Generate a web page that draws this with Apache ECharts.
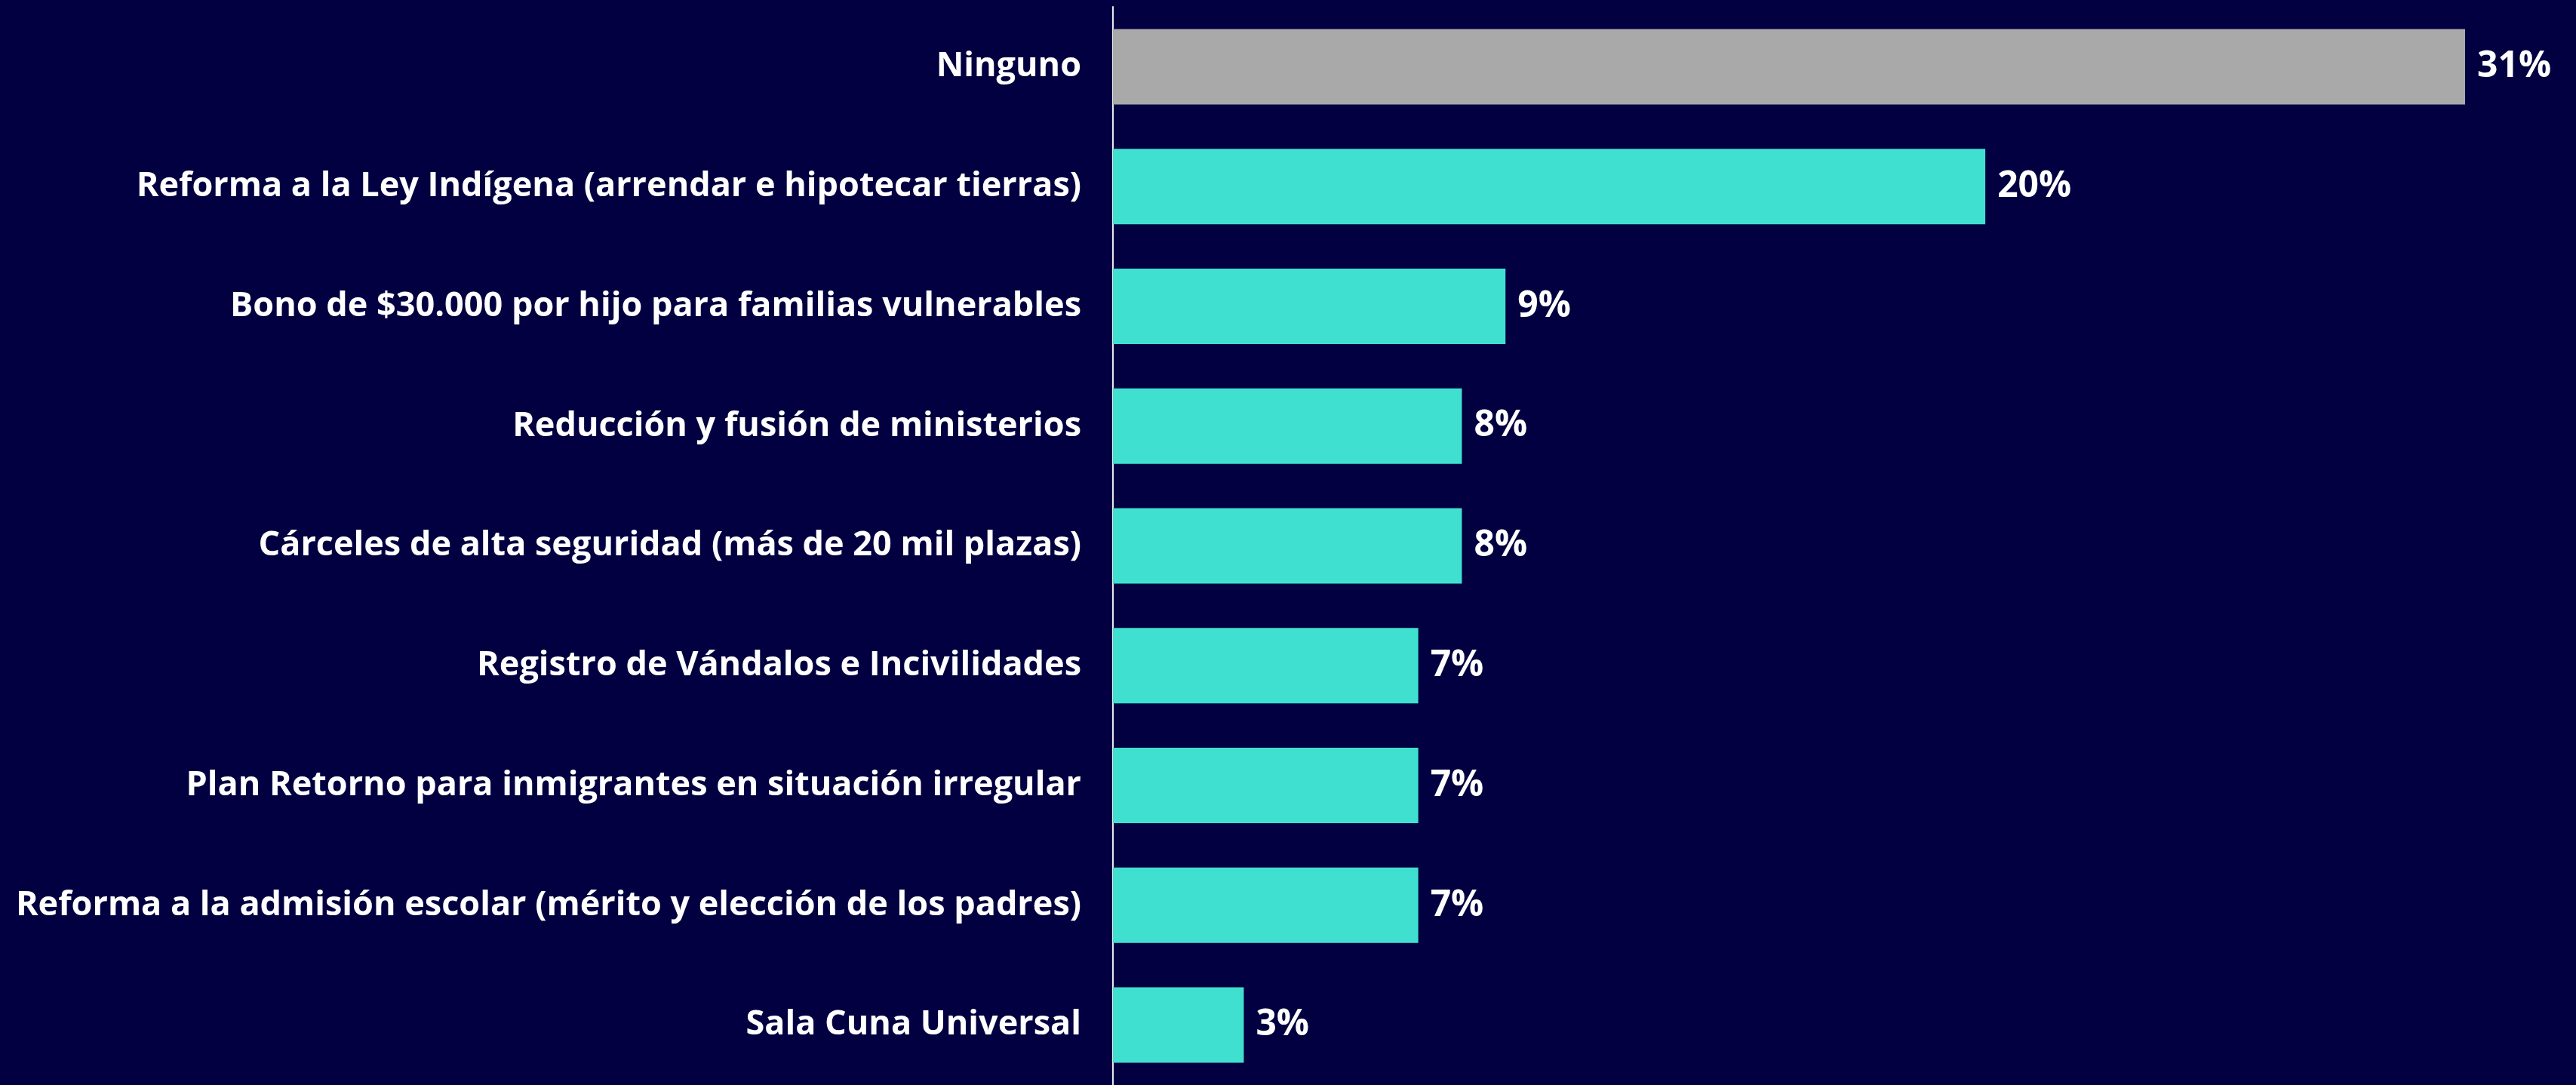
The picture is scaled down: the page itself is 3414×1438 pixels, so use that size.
<!DOCTYPE html>
<html><head><meta charset="utf-8">
<script src="https://cdn.jsdelivr.net/npm/echarts@6/dist/echarts.min.js"></script>
<style>html,body{margin:0;padding:0;background:#020040;}#c{width:3414px;height:1438px;}</style>
</head><body><div id="c"></div>
<script>
const categories = [
  "Ninguno",
  "Reforma a la Ley Indígena (arrendar e hipotecar tierras)",
  "Bono de $30.000 por hijo para familias vulnerables",
  "Reducción y fusión de ministerios",
  "Cárceles de alta seguridad (más de 20 mil plazas)",
  "Registro de Vándalos e Incivilidades",
  "Plan Retorno para inmigrantes en situación irregular",
  "Reforma a la admisión escolar (mérito y elección de los padres)",
  "Sala Cuna Universal"
];
const values = [31, 20, 9, 8, 8, 7, 7, 7, 3];
const highlight = ["Ninguno"];

const FONT = '"Open Sans", sans-serif';
const chart = echarts.init(document.getElementById('c'));
chart.setOption({
  backgroundColor: '#020040',
  animation: false,
  grid: {left: 1475, top: 9, width: 1792, height: 1435},
  xAxis: {type: 'value', min: 0, max: 31, show: false},
  yAxis: {
    type: 'category', data: categories, inverse: true,
    axisLine: {show: true, lineStyle: {color: '#e8e8f0', width: 2}},
    axisTick: {show: false},
    axisLabel: {color: '#ffffff', fontSize: 45, fontWeight: 'bold', fontFamily: FONT, margin: 42}
  },
  series: [{
    type: 'bar',
    barWidth: 100,
    data: values.map((v, i) => ({
      value: v,
      itemStyle: {color: highlight.includes(categories[i]) ? '#A9A9A9' : '#40E0D0'}
    })),
    label: {
      show: true, position: 'right', distance: 16,
      formatter: p => p.value + '%',
      color: '#ffffff', fontSize: 48, fontWeight: 'bold', fontFamily: FONT
    }
  }]
});
</script></body></html>
